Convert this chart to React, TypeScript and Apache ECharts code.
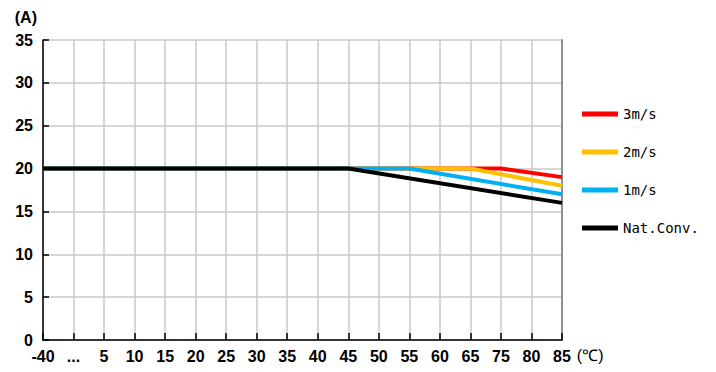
import React, { useEffect, useRef } from "react";
import * as echarts from "echarts";

const categories = ["-40", "...", "5", "10", "15", "20", "25", "30", "35", "40", "45", "50", "55", "60", "65", "75", "80", "85"];
const yTicks = { min: 0, max: 35, interval: 5 };
const seriesNames = ["3m/s", "2m/s", "1m/s", "Nat.Conv."];
const seriesColors = ["#ff0000", "#ffc000", "#00b0f0", "#000000"];
// values per category (null = straight segment between neighbours)
const s3 = [20, 20, 20, 20, 20, 20, 20, 20, 20, 20, 20, 20, 20, 20, 20, 20, null, 19];
const s2 = [20, 20, 20, 20, 20, 20, 20, 20, 20, 20, 20, 20, 20, 20, 20, null, null, 18];
const s1 = [20, 20, 20, 20, 20, 20, 20, 20, 20, 20, 20, 20, 20, null, null, null, null, 17];
const s0 = [20, 20, 20, 20, 20, 20, 20, 20, 20, 20, 20, null, null, null, null, null, null, 16];
const seriesValues = [s3, s2, s1, s0];

const FONT = "'Liberation Sans', Arial, sans-serif";

export default function App() {
  const ref = useRef<HTMLDivElement>(null);
  useEffect(() => {
    const chart = echarts.init(ref.current!, null, { renderer: "svg" });
    chart.setOption({
      animation: false,
      backgroundColor: "#ffffff",
      grid: { left: 43, right: 154, top: 40, bottom: 32, containLabel: false },
      legend: {
        orient: "vertical",
        left: 582,
        top: 106,
        padding: 0,
        itemWidth: 36,
        itemHeight: 5,
        itemGap: 22,
        icon: "rect",
        data: seriesNames,
        textStyle: { fontFamily: "'DejaVu Sans Mono', monospace", fontSize: 14, color: "#000", lineHeight: 16 },
      },
      xAxis: {
        type: "category",
        data: categories,
        boundaryGap: false,
        name: "(℃)",
        nameLocation: "end",
        nameGap: 10,
        nameTextStyle: { fontFamily: FONT, fontSize: 16, color: "#000", verticalAlign: "top", padding: [7, 0, 0, 0] },
        axisLine: { show: true, lineStyle: { color: "#000", width: 1.5 } },
        axisTick: { show: true, inside: true, length: 7, lineStyle: { color: "#000", width: 1.5 }, alignWithLabel: true },
        axisLabel: { fontFamily: FONT, fontSize: 16, color: "#000", margin: 8, interval: 0, fontWeight: "bold" },
        splitLine: { show: true, lineStyle: { color: "#c8c8c8", width: 1.5 } },
      },
      yAxis: [
        {
          type: "value",
          min: yTicks.min,
          max: yTicks.max,
          interval: yTicks.interval,
          name: "(A)",
          nameLocation: "end",
          nameGap: 15,
          nameTextStyle: { fontFamily: FONT, fontSize: 16, color: "#000", align: "right", padding: [0, 6, 0, 0], fontWeight: "bold" },
          axisLine: { show: true, lineStyle: { color: "#000", width: 1.5 } },
          axisTick: { show: true, inside: true, length: 6, lineStyle: { color: "#000", width: 1.5 } },
          axisLabel: { fontFamily: FONT, fontSize: 16, color: "#000", margin: 10, fontWeight: "bold" },
          splitLine: { show: true, lineStyle: { color: "#c8c8c8", width: 1.5 } },
        },
        {
          type: "value",
          position: "right",
          min: yTicks.min,
          max: yTicks.max,
          interval: yTicks.interval,
          axisLine: { show: true, lineStyle: { color: "#909090", width: 2 } },
          axisTick: { show: false },
          axisLabel: { show: false },
          splitLine: { show: false },
        },
      ],
      series: seriesNames.map((name, i) => ({
        name,
        type: "line",
        data: seriesValues[i],
        connectNulls: true,
        showSymbol: false,
        symbol: "none",
        color: seriesColors[i],
        lineStyle: { color: seriesColors[i], width: 4 },
        z: 2 + i,
      })),
    });
    return () => chart.dispose();
  }, []);
  return <div ref={ref} style={{ width: 716, height: 372, position: "absolute", left: 0, top: 0 }} />;
}
